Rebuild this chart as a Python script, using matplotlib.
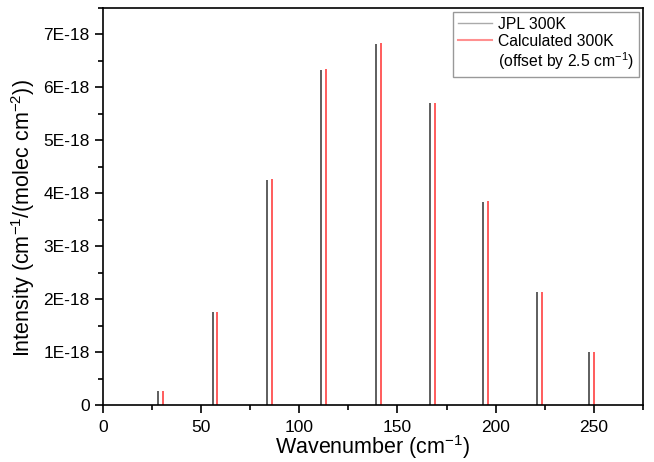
import matplotlib
matplotlib.use("Agg")
import matplotlib.pyplot as plt
from matplotlib.lines import Line2D
from matplotlib.ticker import MultipleLocator, FuncFormatter

plt.rcParams['font.family'] = ['Liberation Sans', 'DejaVu Sans']
plt.rcParams['mathtext.default'] = 'regular'

# line positions (cm-1) and intensities (cm-1/(molec cm-2))
jpl_pos = [27.9, 55.8, 83.6, 111.2, 138.9, 166.5, 193.6, 221.0, 247.6]
jpl_int = [0.265e-18, 1.75e-18, 4.25e-18, 6.33e-18, 6.82e-18, 5.70e-18, 3.84e-18, 2.14e-18, 1.00e-18]
calc_int = [0.265e-18, 1.75e-18, 4.26e-18, 6.34e-18, 6.84e-18, 5.71e-18, 3.85e-18, 2.14e-18, 1.00e-18]
offset = 2.5
calc_pos = [p + offset for p in jpl_pos]

fig = plt.figure(figsize=(6.54, 4.62), dpi=100)
ax = fig.add_axes([0.1575, 0.1234, 0.983 - 0.1575, 0.9827 - 0.1234])

ax.vlines(jpl_pos, 0, jpl_int, color='#333333', lw=1.1)
ax.vlines(calc_pos, 0, calc_int, color='#ff3030', lw=1.1)

ax.set_xlim(0, 275)
ax.set_ylim(0, 7.5e-18)
ax.xaxis.set_major_locator(MultipleLocator(50))
ax.xaxis.set_minor_locator(MultipleLocator(25))
ax.yaxis.set_major_locator(MultipleLocator(1e-18))
ax.yaxis.set_minor_locator(MultipleLocator(0.5e-18))
ax.yaxis.set_major_formatter(FuncFormatter(
    lambda v, p: '0' if abs(v) < 1e-25 else '%dE-18' % round(v / 1e-18)))
ax.tick_params(which='major', direction='out', length=6, width=1.2, labelsize=12.5)
ax.tick_params(which='minor', direction='out', length=3.5, width=1.2)
ax.tick_params(axis='x', which='major', pad=4.5)
for s in ax.spines.values():
    s.set_linewidth(1.2)

ax.set_xlabel('Wavenumber (cm$^{-1}$)', fontsize=15.5)
ax.set_ylabel('Intensity (cm$^{-1}$/(molec cm$^{-2}$))', fontsize=15.5)
ax.xaxis.set_label_coords(0.5, -0.072)
ax.yaxis.set_label_coords(-0.122, 0.47)

handles = [Line2D([], [], color='#aaaaaa', lw=1),
           Line2D([], [], color='#ff9090', lw=1.5),
           Line2D([], [], linestyle='none')]
labels = ['JPL 300K', 'Calculated 300K', '(offset by 2.5 cm$^{-1}$)']
leg = ax.legend(handles, labels, loc='upper right', fontsize=11.3, fancybox=False,
                framealpha=1, edgecolor='#999999', handlelength=2.2,
                handletextpad=0.4, borderaxespad=0.25, labelspacing=0.12,
                borderpad=0.3)
leg.get_frame().set_linewidth(1.0)

fig.savefig('out.png', dpi=100)
